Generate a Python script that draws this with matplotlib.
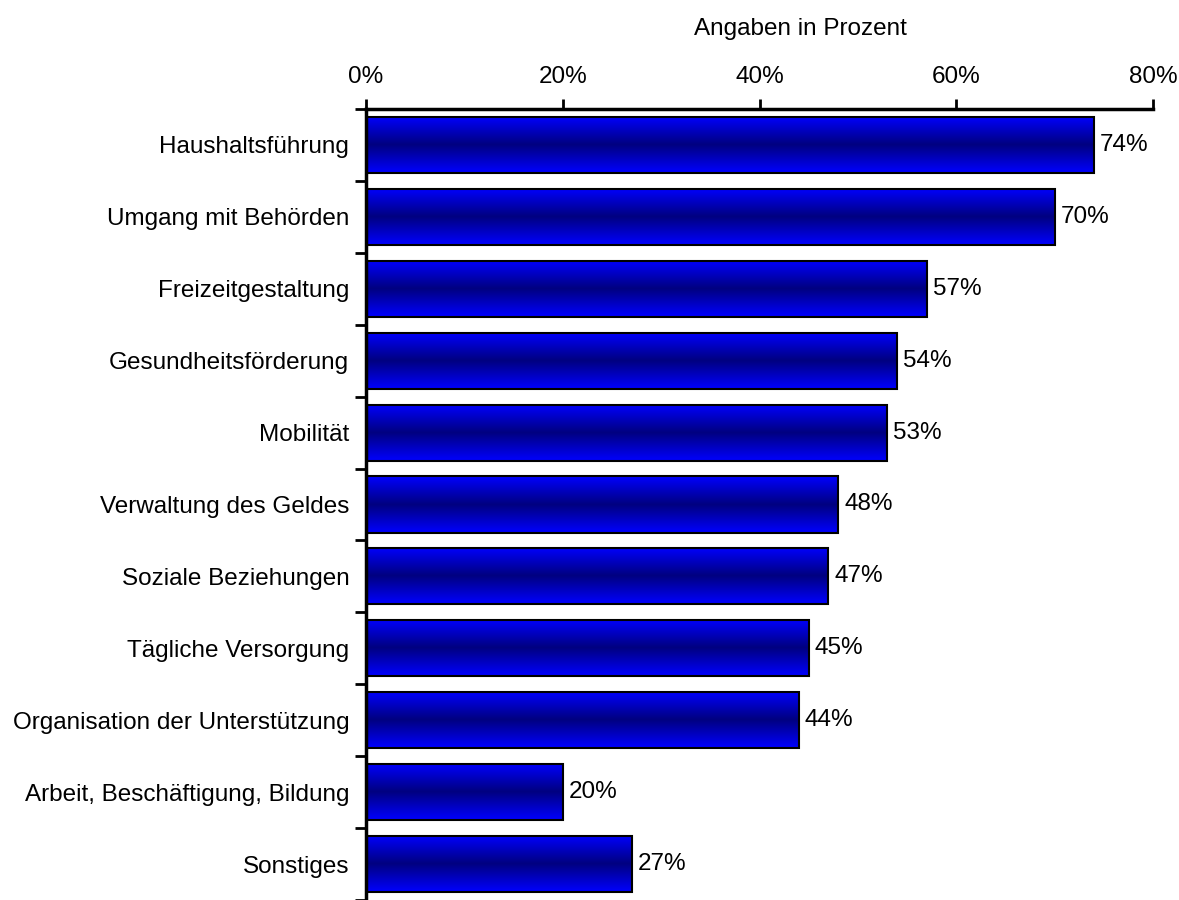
import numpy as np
import matplotlib
matplotlib.use("Agg")
import matplotlib.pyplot as plt
from matplotlib.colors import LinearSegmentedColormap
from matplotlib.patches import Rectangle

plt.rcParams['font.family'] = ['Liberation Sans', 'DejaVu Sans']

categories = ["Haushaltsführung", "Umgang mit Behörden", "Freizeitgestaltung",
              "Gesundheitsförderung", "Mobilität", "Verwaltung des Geldes",
              "Soziale Beziehungen", "Tägliche Versorgung",
              "Organisation der Unterstützung", "Arbeit, Beschäftigung, Bildung",
              "Sonstiges"]
values = [74, 70, 57, 54, 53, 48, 47, 45, 44, 20, 27]
xticks = [0, 20, 40, 60, 80]
xlabel = "Angaben in Prozent"

FS = 17.5
fig = plt.figure(figsize=(11.79, 9.0), dpi=100)
ax = fig.add_axes([366/1179, 0.0, (1153-366)/1179, 1 - 109/900])

n = len(categories)

cmap = LinearSegmentedColormap.from_list("g", ["#0000ff", "#000080", "#0000ff"])
grad = np.linspace(0, 1, 256).reshape(-1, 1)
h = 0.78
for i, v in enumerate(values):
    y0 = i - h / 2
    im = ax.imshow(grad, cmap=cmap, aspect='auto', extent=(0, v, y0 + h, y0),
                   zorder=2, interpolation='bilinear')
    rect = Rectangle((0, y0), v, h, facecolor='none', edgecolor='black',
                     linewidth=1.5, zorder=3)
    ax.add_patch(rect)
    im.set_clip_path(rect)
    ax.text(v + 0.6, i, f"{v}%", va='center', ha='left', fontsize=FS)

ax.set_xlim(0, 80)
ax.set_ylim(n - 0.5, -0.5)

ax.xaxis.tick_top()
ax.set_xticks(xticks)
ax.set_xticklabels([f"{t}%" for t in xticks], fontsize=FS)
ax.tick_params(axis='x', direction='out', length=7, width=2, pad=8)

ax.set_yticks(np.arange(-0.5, n - 0.5 + 0.01, 1.0))
ax.set_yticklabels([])
ax.set_yticks(np.arange(n), minor=True)
ax.set_yticklabels(categories, minor=True, fontsize=FS)
ax.tick_params(axis='y', which='major', direction='out', length=8, width=2)
ax.tick_params(axis='y', which='minor', length=0, pad=12)

for s in ['right', 'bottom']:
    ax.spines[s].set_visible(False)
for s in ['top', 'left']:
    ax.spines[s].set_linewidth(2.5)

fig.text(800/1179, 1 - 29/900, xlabel, ha='center', va='center', fontsize=FS)

fig.savefig("out.png", dpi=100)
